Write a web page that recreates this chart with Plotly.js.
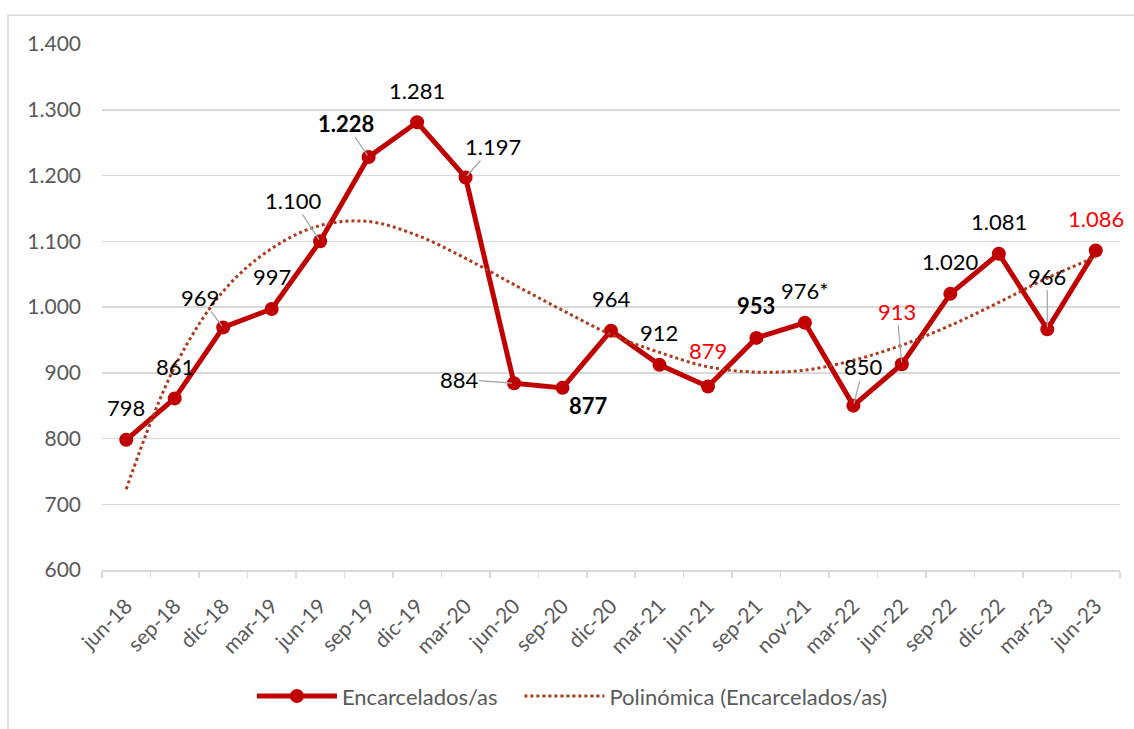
<!DOCTYPE html>
<html>
<head>
<meta charset="utf-8">
<script src="https://cdn.plot.ly/plotly-3.0.1.min.js"></script>
<style>
  html, body { margin: 0; padding: 0; background: #ffffff; }
  #chart { width: 1134px; height: 729px; }
</style>
</head>
<body>
<div id="chart"></div>
<script>
// ---- data ----
const categories = ["jun-18","sep-18","dic-18","mar-19","jun-19","sep-19","dic-19","mar-20","jun-20","sep-20","dic-20","mar-21","jun-21","sep-21","nov-21","mar-22","jun-22","sep-22","dic-22","mar-23","jun-23"];
const encarcelados = [798, 861, 969, 997, 1100, 1228, 1281, 1197, 884, 877, 964, 912, 879, 953, 976, 850, 913, 1020, 1081, 966, 1086];
// polynomial trendline
const polinomica = [723, 909, 1024, 1089, 1124, 1130, 1109, 1074, 1034, 995, 958, 931, 909, 901, 904, 919, 942, 972, 1007, 1044, 1076];
const labelSuffix = ["", "", "", "", "", "", "", "", "", "", "", "", "", "", "*", "", "", "", "", "", ""];
const yTickVals = [600, 700, 800, 900, 1000, 1100, 1200, 1300, 1400];
const yTickText = ["600", "700", "800", "900", "1.000", "1.100", "1.200", "1.300", "1.400"];

// ---- label styling (positions in px relative to the point) ----
const boldIdx = [5, 9, 13];
const redIdx = [12, 16, 20];
// leader-line labels: [ax, ay]
const leader = {2: [-23, -30], 4: [-27, -41], 5: [-23, -34], 7: [27, -31], 8: [-55, -4], 15: [10, -39], 16: [-5, -53], 19: [0, -53]};
// plain labels: [xshift, yshift]
const shift = {9: [26, -18], 12: [0, 36]};

function fmt(v) {
  if (v >= 1000) return Math.floor(v / 1000) + "." + String(v % 1000).padStart(3, "0");
  return String(v);
}

const FONT = "Lato, 'Open Sans', sans-serif";
const annotations = encarcelados.map((v, i) => {
  let txt = fmt(v) + labelSuffix[i];
  if (boldIdx.includes(i)) txt = "<b>" + txt + "</b>";
  const color = redIdx.includes(i) ? "#ff0000" : "#000000";
  const base = {
    x: categories[i], y: v, xref: "x", yref: "y", text: txt,
    font: {family: FONT, size: 22, color: color}
  };
  if (leader[i]) {
    return Object.assign(base, {
      showarrow: true, arrowhead: 0, arrowwidth: 1.3, arrowcolor: "#a6a6a6",
      ax: leader[i][0], ay: leader[i][1], standoff: 2, borderpad: 0
    });
  }
  const s = shift[i] || [0, 32];
  return Object.assign(base, {showarrow: false, xshift: s[0], yshift: s[1]});
});

const traces = [
  {
    x: categories, y: encarcelados, type: "scatter", mode: "lines+markers",
    name: "Encarcelados/as\u00a0\u00a0\u00a0",
    line: {color: "#c00000", width: 5},
    marker: {color: "#c00000", size: 14},
    hoverinfo: "skip"
  },
  {
    x: categories, y: polinomica, type: "scatter", mode: "lines",
    name: "Polinómica (Encarcelados/as)",
    line: {color: "#b0391a", width: 3, dash: "dot", shape: "spline", smoothing: 1},
    hoverinfo: "skip"
  }
];

const layout = {
  width: 1134, height: 729,
  margin: {l: 102, r: 14, t: 44, b: 154},
  paper_bgcolor: "#ffffff", plot_bgcolor: "#ffffff",
  font: {family: FONT, color: "#595959"},
  showlegend: true,
  legend: {
    orientation: "h", x: 0.1473, xanchor: "left", y: -0.2, yanchor: "top",
    font: {family: FONT, size: 22, color: "#595959"},
    itemwidth: 80
  },
  xaxis: {
    type: "category", range: [-0.5, 20.5],
    showgrid: false, showline: true, linecolor: "#d9d9d9", linewidth: 1.5,
    ticks: "outside", tickson: "boundaries", ticklen: 6, tickcolor: "#d9d9d9", tickwidth: 1.5,
    tickangle: -45, tickfont: {family: FONT, size: 21, color: "#595959"},
    ticklabelstandoff: 14,
    zeroline: false, fixedrange: true
  },
  yaxis: {
    range: [600, 1400], tickvals: yTickVals, ticktext: yTickText,
    showgrid: true, gridcolor: "#d9d9d9", gridwidth: 1.5,
    showline: false, zeroline: false, ticks: "", ticklen: 0,
    tickfont: {family: FONT, size: 21, color: "#595959"},
    ticklabelstandoff: 20,
    fixedrange: true
  },
  annotations: annotations,
  shapes: [{
    type: "rect", xref: "paper", yref: "paper",
    x0: -0.0923, x1: 1.03, y0: -0.32, y1: 1.0546,
    line: {color: "#d9d9d9", width: 1.5}, fillcolor: "rgba(0,0,0,0)", layer: "below"
  }]
};

Plotly.newPlot("chart", traces, layout, {displayModeBar: false, staticPlot: true});
</script>
</body>
</html>
